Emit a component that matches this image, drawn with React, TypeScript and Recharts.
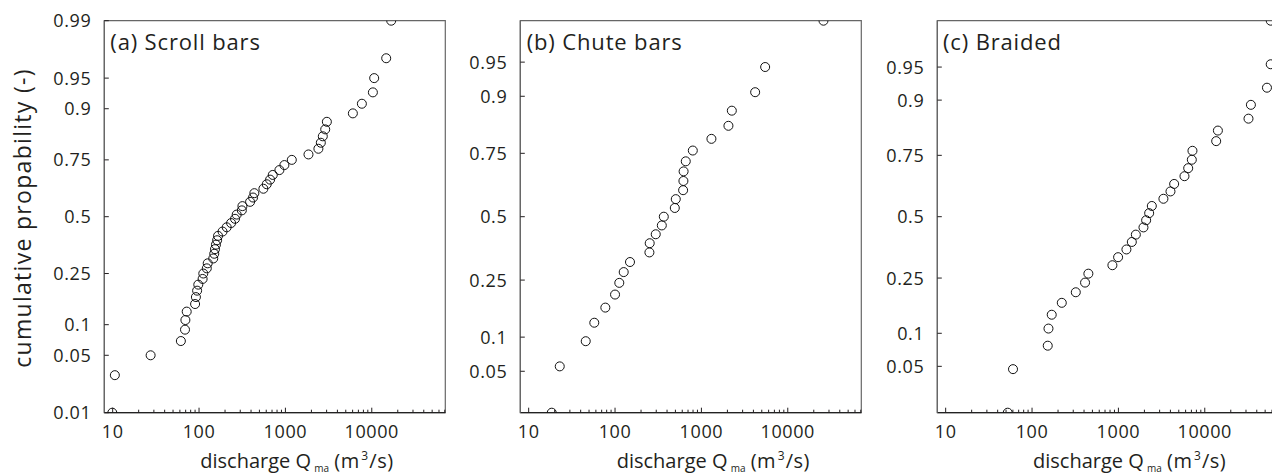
import React from 'react';
import { ScatterChart, Scatter, XAxis, YAxis, ReferenceArea } from 'recharts';

const FONT = '"Open Sans", "DejaVu Sans", sans-serif';
const INK = '#231f20';

// discharge Q_ma (m3/s), sorted
const SCROLL_Q = [
  9.9, 10.6, 27.5, 61.6, 68.8, 69.5, 72, 90, 92, 95,
  98, 110, 112, 123, 126, 146, 150, 153, 157, 162,
  166, 187, 209, 235, 261, 273, 313, 318, 390, 422,
  437, 556, 608, 665, 714, 852, 973, 1186, 1850, 2410,
  2570, 2710, 2890, 3020, 6040, 7680, 10300, 10660, 14690, 16790,
];
const SCROLL_P = [
  0.01, 0.03, 0.05, 0.07, 0.09, 0.11, 0.13, 0.15, 0.17, 0.19,
  0.21, 0.23, 0.25, 0.27, 0.29, 0.31, 0.33, 0.35, 0.37, 0.39,
  0.41, 0.43, 0.45, 0.47, 0.49, 0.51, 0.53, 0.55, 0.57, 0.59,
  0.61, 0.63, 0.65, 0.67, 0.69, 0.71, 0.73, 0.75, 0.77, 0.79,
  0.81, 0.83, 0.85, 0.87, 0.89, 0.91, 0.93, 0.95, 0.97, 0.99,
];

const CHUTE_Q = [
  18.5, 22.9, 45.8, 57.5, 77.2, 100, 112, 126, 149, 250,
  252, 296, 348, 367, 492, 505, 614, 619, 622, 659,
  795, 1306, 2055, 2250, 4190, 5470, 25900,
];
const CHUTE_P = [
  0.0185, 0.0556, 0.0926, 0.1296, 0.1667, 0.2037, 0.2407, 0.2778, 0.3148, 0.3519,
  0.3889, 0.4259, 0.463, 0.5, 0.537, 0.5741, 0.6111, 0.6481, 0.6852, 0.7222,
  0.7593, 0.7963, 0.8333, 0.8704, 0.9074, 0.9444, 0.9815,
];

const BRAIDED_Q = [
  52.3, 60.2, 152, 155, 169, 221, 321, 411, 449, 852,
  992, 1238, 1430, 1592, 1950, 2094, 2270, 2437, 3320, 4007,
  4420, 5820, 6427, 7080, 7200, 13550, 14190, 32070, 34200, 52480,
  58000, 58000,
];
const BRAIDED_P = [
  0.0156, 0.0469, 0.0781, 0.1094, 0.1406, 0.1719, 0.2031, 0.2344, 0.2656, 0.2969,
  0.3281, 0.3594, 0.3906, 0.4219, 0.4531, 0.4844, 0.5156, 0.5469, 0.5781, 0.6094,
  0.6406, 0.6719, 0.7031, 0.7344, 0.7656, 0.7969, 0.8281, 0.8594, 0.8906, 0.9219,
  0.9531, 0.9844,
];

const Y_TICKS_A = [0.01, 0.05, 0.1, 0.25, 0.5, 0.75, 0.9, 0.95, 0.99];
const Y_TICKS_BC = [0.05, 0.1, 0.25, 0.5, 0.75, 0.9, 0.95];
const X_MAJOR = [10, 100, 1000, 10000];
const X_DOMAIN: [number, number] = [8, 71000];

const X_MINOR: number[] = [];
X_MAJOR.forEach((d) => [2, 3, 4, 5, 6, 7, 8, 9].forEach((m) => {
  if (d * m < X_DOMAIN[1]) X_MINOR.push(d * m);
}));
const X_TICKS = [...X_MAJOR, ...X_MINOR].sort((a, b) => a - b);

// inverse normal cdf (Acklam), for the probability-paper axis
function probit(p: number): number {
  const a = [-39.69683028665376, 220.9460984245205, -275.9285104469687, 138.357751867269, -30.66479806614716, 2.506628277459239];
  const b = [-54.47609879822406, 161.5858368580409, -155.6989798598866, 66.80131188771972, -13.28068155288572];
  const c = [-0.007784894002430293, -0.3223964580411365, -2.400758277161838, -2.549671010229528, 4.374664141464968, 2.938163982698783];
  const d = [0.007784695709041462, 0.3224671290700398, 2.445134137142996, 3.754408661907416];
  const lo = 0.02425;
  if (p < lo) {
    const q = Math.sqrt(-2 * Math.log(p));
    return (((((c[0] * q + c[1]) * q + c[2]) * q + c[3]) * q + c[4]) * q + c[5]) /
      ((((d[0] * q + d[1]) * q + d[2]) * q + d[3]) * q + 1);
  }
  if (p > 1 - lo) return -probit(1 - p);
  const q = p - 0.5;
  const r = q * q;
  return (((((a[0] * r + a[1]) * r + a[2]) * r + a[3]) * r + a[4]) * r + a[5]) * q /
    (((((b[0] * r + b[1]) * r + b[2]) * r + b[3]) * r + b[4]) * r + 1);
}

const PAD_L = 104.3;
const PLOT_W = 341;
const CHART_W = 460;
const CHART_H = 475;
const PLOT_TOP = 20.7;
const PLOT_BOTTOM = 412.7;

const XTick = (props: any) => {
  const { x, y, payload } = props;
  const major = X_MAJOR.includes(payload.value);
  return (
    <g>
      <line x1={x} x2={x} y1={y} y2={y - (major ? 5 : 3)} stroke={INK} strokeWidth={1} />
      {major && (
        <text x={x} y={y + 25.5} textAnchor="middle" fontSize={18} letterSpacing={0.6} fontFamily={FONT} fill={INK}>
          {payload.value}
        </text>
      )}
    </g>
  );
};

const makeYTick = (labels: number[]) => (props: any) => {
  const { x, y, payload } = props;
  const p = labels.find((l) => Math.abs(probit(l) - payload.value) < 1e-9);
  return (
    <g>
      <line x1={x} x2={x + 4.5} y1={y} y2={y} stroke={INK} strokeWidth={1} />
      <text x={x - 13} y={y} dy={6.5} textAnchor="end" fontSize={18} letterSpacing={0.6} fontFamily={FONT} fill={INK}>
        {String(p)}
      </text>
    </g>
  );
};

const Ring = (props: any) => (
  <circle cx={props.cx} cy={props.cy} r={4.5} fill="none" stroke="#111" strokeWidth={1} />
);

interface PanelProps { plotLeft: number; q: number[]; p: number[]; yTicks: number[] }

function Panel({ plotLeft, q, p, yTicks }: PanelProps) {
  const data = q.map((v, i) => ({ q: v, z: probit(p[i]) }));
  const zMin = probit(p[0]);
  const zMax = probit(p[p.length - 1]);
  return (
    <div style={{ position: 'absolute', left: plotLeft - PAD_L, top: 0 }}>
      <ScatterChart
        width={CHART_W}
        height={CHART_H}
        margin={{ top: PLOT_TOP, right: CHART_W - PAD_L - PLOT_W, bottom: CHART_H - PLOT_BOTTOM - 1, left: PAD_L - 1 }}
      >
        <XAxis
          type="number"
          dataKey="q"
          scale="log"
          domain={X_DOMAIN}
          allowDataOverflow
          ticks={X_TICKS}
          interval={0}
          height={1}
          tickSize={0}
          tickMargin={0}
          tickLine={false}
          axisLine={{ stroke: '#222', strokeWidth: 1.3 }}
          tick={XTick}
        />
        <YAxis
          type="number"
          dataKey="z"
          domain={[zMin, zMax]}
          allowDataOverflow
          ticks={yTicks.map(probit)}
          interval={0}
          width={1}
          tickSize={0}
          tickMargin={0}
          tickLine={false}
          axisLine={{ stroke: '#666', strokeWidth: 1.2 }}
          tick={makeYTick(yTicks)}
        />
        <ReferenceArea x1={X_DOMAIN[0]} x2={X_DOMAIN[1]} y1={zMin} y2={zMax} fill="none" stroke="#666" strokeWidth={1.2} ifOverflow="visible" />
        <Scatter data={data} isAnimationActive={false} shape={Ring} />
      </ScatterChart>
    </div>
  );
}

const PANELS = [
  { plotLeft: 104.3, q: SCROLL_Q, p: SCROLL_P, yTicks: Y_TICKS_A, title: '(a) Scroll bars' },
  { plotLeft: 520.7, q: CHUTE_Q, p: CHUTE_P, yTicks: Y_TICKS_BC, title: '(b) Chute bars' },
  { plotLeft: 937, q: BRAIDED_Q, p: BRAIDED_P, yTicks: Y_TICKS_BC, title: '(c) Braided' },
];

export default function App() {
  return (
    <div style={{ position: 'absolute', left: 0, top: 0, width: 1272, height: 475, overflow: 'hidden', background: '#fff' }}>
      {PANELS.map((pn) => (
        <Panel key={pn.title} plotLeft={pn.plotLeft} q={pn.q} p={pn.p} yTicks={pn.yTicks} />
      ))}
      <svg width={1272} height={475} style={{ position: 'absolute', left: 0, top: 0, pointerEvents: 'none' }}>
        <text transform="translate(31,218) rotate(-90)" textAnchor="middle" fontSize={23} letterSpacing={1.3} fontFamily={FONT} fill={INK}>
          cumulative propability (-)
        </text>
        {PANELS.map((pn) => {
          const x0 = pn.plotLeft + 96;
          return (
            <g key={pn.title} fill={INK} fontFamily={FONT}>
              <text x={pn.plotLeft + 6} y={50} fontSize={22} letterSpacing={0.85}>{pn.title}</text>
              <text x={x0} y={468} fontSize={20}>
                discharge Q
                <tspan x={x0 + 114} dy={4} fontSize={10} fill={INK}>ma</tspan>
                <tspan x={x0 + 134} dy={-4} fontSize={20} letterSpacing={0.5} fill={INK}>(m</tspan>
                <tspan x={x0 + 161} dy={-8} fontSize={12} fill={INK}>3</tspan>
                <tspan x={x0 + 169} dy={8} fontSize={20} letterSpacing={0.5} fill={INK}>/s)</tspan>
              </text>
            </g>
          );
        })}
      </svg>
    </div>
  );
}
